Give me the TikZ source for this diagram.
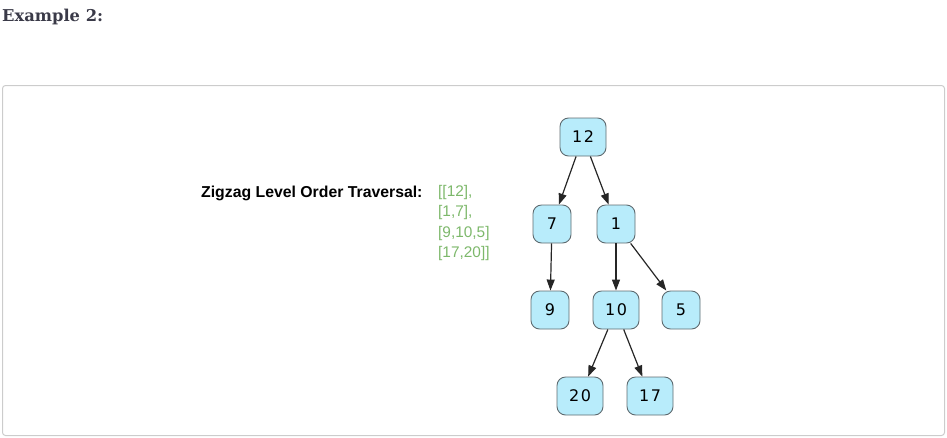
\documentclass[tikz,border=0pt]{standalone}
\usepackage{fontspec}
\setmainfont{Liberation Sans}
\newfontfamily\headfont{DejaVu Serif}
\newfontfamily\nodefont{DejaVu Sans}[LetterSpace=10]
\usetikzlibrary{arrows.meta}
\definecolor{nodefill}{HTML}{B8ECFB}
\definecolor{nodeline}{HTML}{5F6B70}
\definecolor{greentxt}{HTML}{7DB86B}
\definecolor{headcol}{HTML}{3A3A48}
\definecolor{framecol}{HTML}{CCCCCC}
\begin{document}
\begin{tikzpicture}[x=1pt,y=-1pt,
  tnode/.style={draw=nodeline, line width=0.9pt, fill=nodefill, rounded corners=8.5pt,
    minimum height=38pt, minimum width=38pt, inner sep=0pt, font=\nodefont\fontsize{16}{18}\selectfont},
  wnode/.style={tnode, minimum width=46pt},
  edge/.style={draw=black!85, line width=1.2pt, -{Triangle[length=11pt,width=8pt]}}]
\useasboundingbox (0,0) rectangle (947,437);
\draw[framecol, line width=1pt, rounded corners=3pt] (2.5,85.5) rectangle (944.5,435.5);
\node[anchor=west, inner sep=0pt, text=headcol, font=\headfont\bfseries\fontsize{16.3}{19}\selectfont] (title) at (2,17) {Example 2:};
\node[anchor=west, inner sep=0pt, font=\bfseries\fontsize{15.8}{18}\selectfont] (lbl) at (201,193) {Zigzag Level Order Traversal:};
\node[anchor=north west, inner sep=0pt, align=left, text=greentxt, font=\fontsize{15.4}{20.5}\selectfont] (res) at (438,185) {{[[12],}\\{[1,7],}\\{[9,10,5]}\\{[17,20]]}};
\node[wnode] (n12) at (583,137) {12};
\node[tnode] (n7) at (552,224) {7};
\node[tnode] (n1) at (616,224) {1};
\node[tnode] (n9) at (550,310) {9};
\node[wnode] (n10) at (616,310) {10};
\node[tnode] (n5) at (681,310) {5};
\node[wnode] (n20) at (580,396) {20};
\node[wnode] (n17) at (650,396) {17};
\draw[edge] (n12) -- (n7);
\draw[edge] (n12) -- (n1);
\draw[edge] (n7) -- (n9);
\draw[edge] (n1) -- (n10);
\draw[edge] (n1) -- (n5);
\draw[edge] (n10) -- (n20);
\draw[edge] (n10) -- (n17);
\end{tikzpicture}
\end{document}
